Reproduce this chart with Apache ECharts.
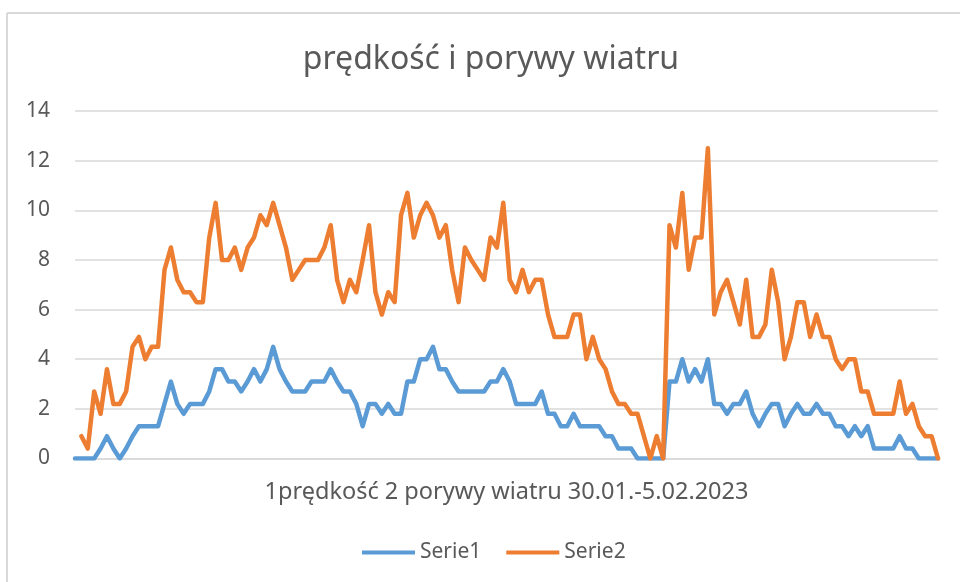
<!DOCTYPE html>
<html>
<head>
<meta charset="utf-8">
<script src="https://cdn.jsdelivr.net/npm/echarts@6/dist/echarts.min.js"></script>
<style>
  html, body { margin: 0; padding: 0; background: #fff; }
  #chart { width: 960px; height: 582px; }
</style>
</head>
<body>
<div id="chart"></div>
<script>
// prędkość wiatru (Serie1) i porywy (Serie2), m/s
var serie1 = [
  0, 0, 0, 0, 0.4, 0.9, 0.4, 0, 0.4, 0.9, 1.3, 1.3, 1.3, 1.3, 2.2, 3.1, 2.2, 1.8, 2.2, 2.2,
  2.2, 2.7, 3.6, 3.6, 3.1, 3.1, 2.7, 3.1, 3.6, 3.1, 3.6, 4.5, 3.6, 3.1, 2.7, 2.7, 2.7, 3.1, 3.1, 3.1,
  3.6, 3.1, 2.7, 2.7, 2.2, 1.3, 2.2, 2.2, 1.8, 2.2, 1.8, 1.8, 3.1, 3.1, 4.0, 4.0, 4.5, 3.6, 3.6, 3.1,
  2.7, 2.7, 2.7, 2.7, 2.7, 3.1, 3.1, 3.6, 3.1, 2.2, 2.2, 2.2, 2.2, 2.7, 1.8, 1.8, 1.3, 1.3, 1.8, 1.3,
  1.3, 1.3, 1.3, 0.9, 0.9, 0.4, 0.4, 0.4, 0, 0, 0, 0, 0, 3.1, 3.1, 4.0, 3.1, 3.6, 3.1, 4.0,
  2.2, 2.2, 1.8, 2.2, 2.2, 2.7, 1.8, 1.3, 1.8, 2.2, 2.2, 1.3, 1.8, 2.2, 1.8, 1.8, 2.2, 1.8, 1.8, 1.3,
  1.3, 0.9, 1.3, 0.9, 1.3, 0.4, 0.4, 0.4, 0.4, 0.9, 0.4, 0.4, 0, 0, 0, 0
];
var serie2 = [
  null, 0.9, 0.4, 2.7, 1.8, 3.6, 2.2, 2.2, 2.7, 4.5, 4.9, 4.0, 4.5, 4.5, 7.6, 8.5, 7.2, 6.7, 6.7, 6.3,
  6.3, 8.9, 10.3, 8.0, 8.0, 8.5, 7.6, 8.5, 8.9, 9.8, 9.4, 10.3, 9.4, 8.5, 7.2, 7.6, 8.0, 8.0, 8.0, 8.5,
  9.4, 7.2, 6.3, 7.2, 6.7, 8.0, 9.4, 6.7, 5.8, 6.7, 6.3, 9.8, 10.7, 8.9, 9.8, 10.3, 9.8, 8.9, 9.4, 7.6,
  6.3, 8.5, 8.0, 7.6, 7.2, 8.9, 8.5, 10.3, 7.2, 6.7, 7.6, 6.7, 7.2, 7.2, 5.8, 4.9, 4.9, 4.9, 5.8, 5.8,
  4.0, 4.9, 4.0, 3.6, 2.7, 2.2, 2.2, 1.8, 1.8, 0.9, 0, 0.9, 0, 9.4, 8.5, 10.7, 7.6, 8.9, 8.9, 12.5,
  5.8, 6.7, 7.2, 6.3, 5.4, 7.2, 4.9, 4.9, 5.4, 7.6, 6.3, 4.0, 4.9, 6.3, 6.3, 4.9, 5.8, 4.9, 4.9, 4.0,
  3.6, 4.0, 4.0, 2.7, 2.7, 1.8, 1.8, 1.8, 1.8, 3.1, 1.8, 2.2, 1.3, 0.9, 0.9, 0
];
var seriesNames = ['Serie1', 'Serie2'];
var categories = serie1.map(function (v, i) { return String(i + 1); });
var yTicks = { min: 0, max: 14, interval: 2 };

var chart = echarts.init(document.getElementById('chart'));
var option = {
  animation: false,
  backgroundColor: '#ffffff',
  color: ['#5b9bd5', '#ed7d31'],
  title: {
    text: 'prędkość i porywy wiatru',
    left: 486,
    top: 39,
    textAlign: 'center',
    textStyle: {
      fontFamily: 'Noto Sans',
      fontSize: 32,
      fontWeight: 'normal',
      color: '#595959'
    }
  },
  legend: {
    data: seriesNames,
    left: 357,
    top: 537,
    icon: 'rect',
    itemWidth: 53,
    itemHeight: 4,
    itemGap: 25,
    textStyle: { fontFamily: 'Noto Sans', fontSize: 21, color: '#595959' }
  },
  graphic: [
    { type: 'line', shape: { x1: 7, y1: 13, x2: 7, y2: 582 }, style: { stroke: '#d9d9d9', lineWidth: 2 } },
    { type: 'line', shape: { x1: 7, y1: 13, x2: 960, y2: 13 }, style: { stroke: '#d9d9d9', lineWidth: 2 } }
  ],
  grid: { left: 75, right: 22, top: 111, bottom: 123.5 },
  xAxis: {
    type: 'category',
    data: categories,
    boundaryGap: false,
    name: '1prędkość 2 porywy wiatru 30.01.-5.02.2023',
    nameLocation: 'middle',
    nameGap: 22,
    nameTextStyle: { fontFamily: 'Noto Sans', fontSize: 23.5, color: '#595959' },
    axisLine: { lineStyle: { color: '#d9d9d9', width: 1.5 } },
    axisTick: { show: false },
    axisLabel: { show: false },
    splitLine: { show: false }
  },
  yAxis: {
    type: 'value',
    min: yTicks.min,
    max: yTicks.max,
    interval: yTicks.interval,
    axisLine: { show: false },
    axisTick: { show: false },
    axisLabel: { fontFamily: 'Noto Sans', fontSize: 21, color: '#595959', margin: 25 },
    splitLine: { lineStyle: { color: '#d9d9d9', width: 1.5 } }
  },
  series: [
    {
      name: seriesNames[0],
      type: 'line',
      data: serie1,
      symbol: 'none',
      lineStyle: { width: 4.5, join: 'round', cap: 'round' }
    },
    {
      name: seriesNames[1],
      type: 'line',
      data: serie2,
      symbol: 'none',
      lineStyle: { width: 4.5, join: 'round', cap: 'round' }
    }
  ]
};
chart.setOption(option);
</script>
</body>
</html>
